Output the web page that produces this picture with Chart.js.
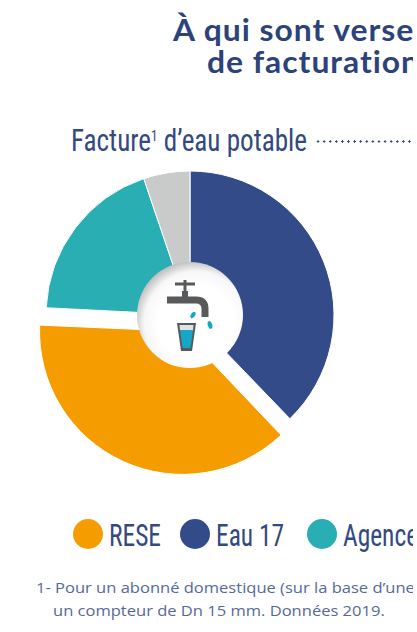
<!DOCTYPE html>
<html lang="fr">
<head>
<meta charset="utf-8">
<title>Facture d'eau potable</title>
<script src="https://cdn.jsdelivr.net/npm/chart.js@4"></script>
<style>
  html, body { margin: 0; padding: 0; background: #fff; }
  #page { position: relative; width: 413px; height: 632px; overflow: hidden; color: #2f4a80; }
  #page > * { position: absolute; white-space: nowrap; }
  .title { font: 700 29.5px Lato, sans-serif; letter-spacing: 0.9px; color: #2c4379; transform: scaleX(1.08); transform-origin: 0 50%; }
  .cond { font-family: "Liberation Sans Narrow", "Roboto Condensed", Roboto, sans-serif; color: #33497f; }
  .note { font: 15.2px "Open Sans", sans-serif; color: #56699a; transform: scaleX(1.088); transform-origin: 0 50%; }
  #sub sup { font-size: 15px; line-height: 0; vertical-align: 10px; }
  #dots { left: 315px; top: 140px; width: 100px; height: 3px;
    background: radial-gradient(circle, #33497f 1px, transparent 1.3px) 0 0 / 6.1px 3px repeat-x; }
  .swatch { width: 30px; height: 30px; border-radius: 50%; top: 519px; }
  .leg { top: 517px; font-size: 31px; transform: scaleX(.82); transform-origin: 0 50%; }
  #wrap { left: 0; top: 130px; width: 380px; height: 370px; }
</style>
</head>
<body>
<div id="page">
  <div class="title" style="left:173px;top:12px">À qui sont verse</div>
  <div class="title" style="left:207px;top:44px">de facturation</div>
  <div id="sub" class="cond" style="left:71px;top:122px;font-size:31px;transform:scaleX(.875);transform-origin:0 50%">Facture<sup>1</sup> d’eau potable</div>
  <div id="dots"></div>
  <div id="wrap"><canvas id="chart"></canvas></div>
  <div id="legend"></div>
  <div class="note" style="left:36px;top:577px">1- Pour un abonné domestique (sur la base d’une</div>
  <div class="note" style="left:53px;top:600px">un compteur de Dn 15 mm. Données 2019.</div>
</div>
<script>
const categories = ["Eau 17", "RESE", "Agence", "Autres"];
const shares = [37.8, 38, 19, 5.2];
const colors = ["#344b8a", "#f59c00", "#28aeb3", "#c9cbca"];
const offsets = [0, 72, 0, 0];
const legendItems = ["RESE", "Eau 17", "Agence"];
const legendX = [73, 180, 307];
const ringRadius = 144;

const legend = document.getElementById("legend");
legendItems.forEach(function (name, i) {
  const dot = document.createElement("div");
  dot.className = "swatch";
  dot.style.cssText = "position:absolute;left:" + legendX[i] + "px;background:" + colors[categories.indexOf(name)];
  const txt = document.createElement("div");
  txt.className = "leg cond";
  txt.style.cssText = "position:absolute;white-space:nowrap;left:" + (legendX[i] + 36) + "px";
  txt.textContent = name;
  legend.appendChild(dot);
  legend.appendChild(txt);
});

// chart.js grows an offset arc a little, the reference slice keeps its size
const keepRadius = {
  id: "keepRadius",
  beforeDatasetsDraw(chart) {
    chart.getDatasetMeta(0).data.forEach(function (arc, i) {
      if (!offsets[i]) return;
      const fix = 1 - Math.sin(Math.min(Math.PI, arc.circumference));
      arc.outerRadius = ringRadius - 1 - offsets[i] / 4 * fix;
    });
  }
};

// white hub with soft shadow on the upper left, and the tap + glass pictogram
const hub = {
  id: "hub",
  afterDatasetsDraw(chart) {
    const meta = chart.getDatasetMeta(0).data[0];
    const cx = meta.x, cy = meta.y;
    const ctx = chart.ctx;
    ctx.save();
    ctx.translate(cx, cy);

    const g = ctx.createRadialGradient(6, 8, 38, 6, 8, 63);
    g.addColorStop(0, "#ffffff");
    g.addColorStop(0.55, "#f7f7f7");
    g.addColorStop(1, "#bcbcbc");
    ctx.fillStyle = g;
    ctx.beginPath();
    ctx.arc(0, 0, 53, 0, Math.PI * 2);
    ctx.fill();

    // tap
    ctx.strokeStyle = "#58595b";
    ctx.lineCap = "butt";
    ctx.lineWidth = 3;
    ctx.beginPath();
    ctx.moveTo(-15, -31);
    ctx.lineTo(5, -31);
    ctx.moveTo(-5, -35);
    ctx.lineTo(-5, -20);
    ctx.stroke();
    ctx.lineWidth = 7;
    ctx.beginPath();
    ctx.moveTo(-23, -15);
    ctx.lineTo(6, -15);
    ctx.quadraticCurveTo(15, -15, 15, -6);
    ctx.lineTo(15, 2);
    ctx.stroke();
    ctx.lineWidth = 6;
    ctx.beginPath();
    ctx.moveTo(-5, -24);
    ctx.lineTo(-5, -14);
    ctx.stroke();

    // glass
    ctx.fillStyle = "#58595b";
    ctx.beginPath();
    ctx.moveTo(-13, 8);
    ctx.lineTo(6, 8);
    ctx.lineTo(2, 36);
    ctx.lineTo(-9, 36);
    ctx.closePath();
    ctx.fill();
    ctx.fillStyle = "#dfe3e4";
    ctx.beginPath();
    ctx.moveTo(-10.5, 10);
    ctx.lineTo(3.5, 10);
    ctx.lineTo(3, 15);
    ctx.lineTo(-10, 15);
    ctx.closePath();
    ctx.fill();
    ctx.fillStyle = "#18a6c6";
    ctx.beginPath();
    ctx.moveTo(-10, 15);
    ctx.lineTo(3, 15);
    ctx.lineTo(0.5, 33);
    ctx.lineTo(-7.5, 33);
    ctx.closePath();
    ctx.fill();

    // drops
    ctx.beginPath();
    ctx.ellipse(3, 0, 2, 3.5, 0.6, 0, Math.PI * 2);
    ctx.fill();
    ctx.beginPath();
    ctx.ellipse(20, 10, 2.2, 4, -0.3, 0, Math.PI * 2);
    ctx.fill();
    ctx.restore();
  }
};

new Chart(document.getElementById("chart"), {
  type: "doughnut",
  data: {
    labels: categories,
    datasets: [{
      data: shares,
      backgroundColor: colors,
      offset: offsets,
      borderWidth: 1,
      borderColor: "#ffffff",
      hoverOffset: 0
    }]
  },
  options: {
    responsive: true,
    maintainAspectRatio: false,
    animation: false,
    radius: ringRadius,
    cutout: 30,
    layout: { padding: 0 },
    plugins: { legend: { display: false }, tooltip: { enabled: false } }
  },
  plugins: [keepRadius, hub]
});
</script>
</body>
</html>
